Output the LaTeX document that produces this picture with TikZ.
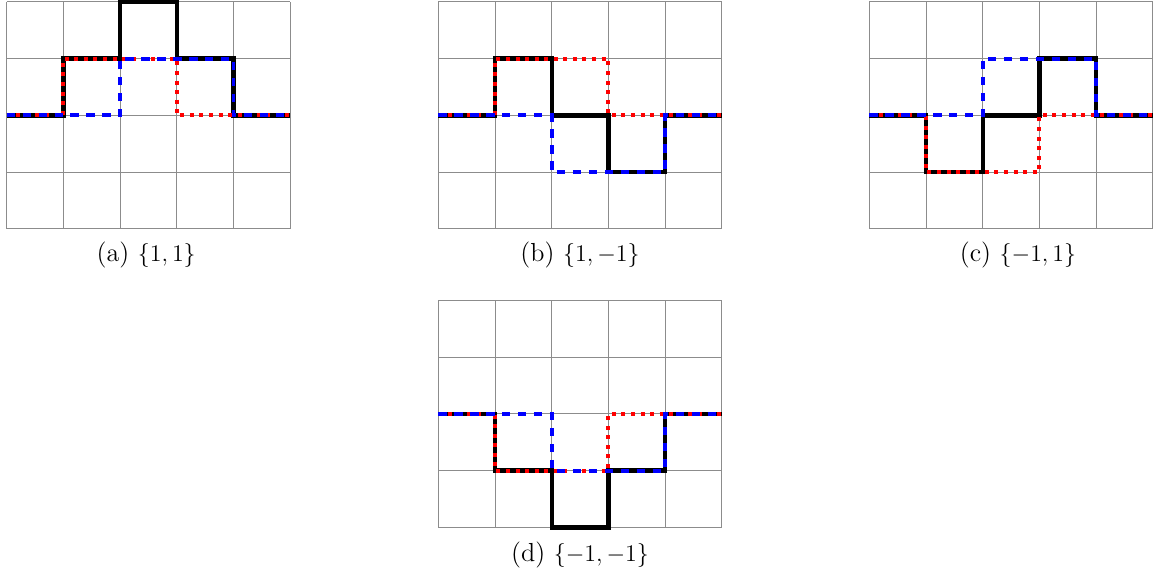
\documentclass[tikz,border=0pt]{standalone}
\tikzset{
  gridline/.style={draw=black!45, line width=0.45pt},
  sumline/.style={draw=black, line width=2.2pt},
  redline/.style={draw=red, line width=2pt, dash pattern=on 2pt off 2.8pt},
  blueline/.style={draw=blue, line width=2pt, dash pattern=on 4.2pt off 3.8pt},
  caplabel/.style={anchor=base, inner sep=0pt, font=\fontsize{13.1}{15.7}\selectfont}
}
\begin{document}
\begin{tikzpicture}
\useasboundingbox (0,0) rectangle (20.352,-10.176);
% (a) {1,1}
\begin{scope}[shift={(0.118,-4.034)}]
  \draw[gridline] (0,0) grid (5,4);
  \draw[sumline] (0,2) -- (1,2) -- (1,3) -- (2,3) -- (2,4) -- (3,4) -- (3,3) -- (4,3) -- (4,2) -- (5,2);
  \draw[redline] (0,2) -- (1,2) -- (1,3) -- (3,3) -- (3,2) -- (5,2);
  \draw[blueline] (0,2) -- (2,2) -- (2,3) -- (4,3) -- (4,2) -- (5,2);
\end{scope}
\node[caplabel] (capa) at (2.578,-4.62) {(a) $\{1,1\}$};
% (b) {1,-1}
\begin{scope}[shift={(7.730,-4.034)}]
  \draw[gridline] (0,0) grid (5,4);
  \draw[sumline] (0,2) -- (1,2) -- (1,3) -- (2,3) -- (2,2) -- (3,2) -- (3,1) -- (4,1) -- (4,2) -- (5,2);
  \draw[redline] (0,2) -- (1,2) -- (1,3) -- (3,3) -- (3,2) -- (5,2);
  \draw[blueline] (0,2) -- (2,2) -- (2,1) -- (4,1) -- (4,2) -- (5,2);
\end{scope}
\node[caplabel] (capb) at (10.229,-4.62) {(b) $\{1,-1\}$};
% (c) {-1,1}
\begin{scope}[shift={(15.332,-4.034)}]
  \draw[gridline] (0,0) grid (5,4);
  \draw[sumline] (0,2) -- (1,2) -- (1,1) -- (2,1) -- (2,2) -- (3,2) -- (3,3) -- (4,3) -- (4,2) -- (5,2);
  \draw[redline] (0,2) -- (1,2) -- (1,1) -- (3,1) -- (3,2) -- (5,2);
  \draw[blueline] (0,2) -- (2,2) -- (2,3) -- (4,3) -- (4,2) -- (5,2);
\end{scope}
\node[caplabel] (capc) at (17.954,-4.62) {(c) $\{-1,1\}$};
% (d) {-1,-1}
\begin{scope}[shift={(7.730,-9.300)}]
  \draw[gridline] (0,0) grid (5,4);
  \draw[sumline] (0,2) -- (1,2) -- (1,1) -- (2,1) -- (2,0) -- (3,0) -- (3,1) -- (4,1) -- (4,2) -- (5,2);
  \draw[redline] (0,2) -- (1,2) -- (1,1) -- (3,1) -- (3,2) -- (5,2);
  \draw[blueline] (0,2) -- (2,2) -- (2,1) -- (4,1) -- (4,2) -- (5,2);
\end{scope}
\node[caplabel] (capd) at (10.229,-9.894) {(d) $\{-1,-1\}$};
\end{tikzpicture}
\end{document}
